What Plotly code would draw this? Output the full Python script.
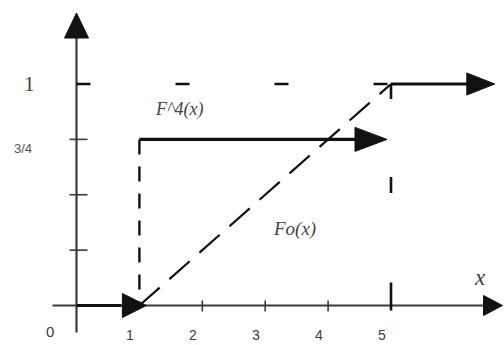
import plotly.graph_objects as go

# Step function F^4(x): levels between breakpoints
f4_breaks = [0, 1, 5, 6.65]
f4_levels = [0, 0.75, 1]

# Limit distribution Fo(x): straight line from (1, 0) to (5, 1)
fo_x = [1, 5]
fo_y = [0, 1]

# Axis ticks and labels
x_ticks = [1, 2, 3, 4, 5]
x_tick_labels = ["1", "2", "3", "4", "5"]
y_ticks = [0.25, 0.5, 0.75, 1]
y_label_vals = [0.75, 1]
y_label_text = ["3/4", "1"]

# Pixel geometry of the plotting area (x: px = 76.5 + 62.9*x ; y: px = 305.5 - 221.5*y)
W, H = 504, 345
x0_px, x_unit = 76.5, 62.9
y0_px, y_unit = 305.5, 221.5
x_range = [-x0_px / x_unit, (W - x0_px) / x_unit]
y_range = [(y0_px - H) / y_unit, y0_px / y_unit]

AX = "#3a3a3a"
INK = "#111111"
TXT = "#3c3c3c"

fig = go.Figure()


def seg(xs, ys, width, color=INK, dash="solid"):
    fig.add_trace(go.Scatter(x=xs, y=ys, mode="lines", hoverinfo="skip",
                             line=dict(color=color, width=width, dash=dash),
                             showlegend=False))


def arrow_right(x, y, length, half, color=INK, shift=0):
    fig.add_shape(type="path", xref="x", yref="y", xsizemode="pixel", ysizemode="pixel",
                  xanchor=x, yanchor=y,
                  path=f"M {shift},0 L {shift - length},{half} L {shift - length},{-half} Z",
                  fillcolor=color, line=dict(color=color, width=1))


def arrow_up(x, y, length, half, color=INK):
    fig.add_shape(type="path", xref="x", yref="y", xsizemode="pixel", ysizemode="pixel",
                  xanchor=x, yanchor=y,
                  path=f"M 0,0 L {-half},{-length} L {half},{-length} Z",
                  fillcolor=color, line=dict(color=color, width=1))


# Coordinate axes
x_axis_end = x_range[1] - 1.5 / x_unit
y_axis_top = (y0_px - 13) / y_unit
seg([-24 / x_unit, x_axis_end - 18 / x_unit], [0, 0], 2.2, AX)
arrow_right(x_axis_end, 0, 19, 10, INK)
seg([0, 0], [-27 / y_unit, y_axis_top - 22 / y_unit], 2.2, AX)
arrow_up(0, y_axis_top, 25, 12, INK)

# Ticks on the x axis
for xv in x_ticks[1:4]:
    fig.add_shape(type="line", xref="x", yref="y", ysizemode="pixel", yanchor=0,
                  x0=xv, x1=xv, y0=-6, y1=5, line=dict(color=AX, width=1.6))
fig.add_shape(type="line", xref="x", yref="y", ysizemode="pixel", yanchor=0,
              x0=x_ticks[-1], x1=x_ticks[-1], y0=-5, y1=23, line=dict(color=INK, width=2.6))

# Ticks on the y axis
for yv in y_ticks[:-1]:
    fig.add_shape(type="line", xref="x", yref="y", xsizemode="pixel", xanchor=0,
                  x0=-7, x1=11, y0=yv, y1=yv, line=dict(color=AX, width=1.6))

# Guide lines: dashed level 1, dashed verticals at x = 1 and x = 5
seg([0, f4_breaks[2]], [1, 1], 2.4, INK, "14px,85px")
seg([f4_breaks[1], f4_breaks[1]], [f4_levels[1], 0], 2.4, INK, "15px,12px")
seg([f4_breaks[2], f4_breaks[2]], [1, 0.45], 2.6, INK, "15px,78px,16px,300px")

# Fo(x)
seg(fo_x, fo_y, 2.2, INK, "27px,13px")

# F^4(x) steps with arrow heads
seg([f4_breaks[0], f4_breaks[1] - 18 / x_unit], [f4_levels[0]] * 2, 3.2)
arrow_right(f4_breaks[1], f4_levels[0], 24, 12, INK, shift=7)
seg([f4_breaks[1], f4_breaks[2] - 30 / x_unit], [f4_levels[1]] * 2, 3.2)
arrow_right(f4_breaks[2], f4_levels[1], 32, 12, INK, shift=-4)
seg([f4_breaks[2], f4_breaks[3] - 26 / x_unit], [f4_levels[2]] * 2, 3.2)
arrow_right(f4_breaks[3], f4_levels[2], 28, 11, INK)

# Text
serif = "Liberation Serif, DejaVu Serif, serif"
sans = "Liberation Sans, Arial, sans-serif"
for xv, lab in zip(x_ticks, x_tick_labels):
    fig.add_annotation(x=xv, y=0, text=lab, showarrow=False, xshift=-9, yshift=-29,
                       font=dict(family=sans, size=14, color=TXT))
fig.add_annotation(x=0, y=0, text="0", showarrow=False, xshift=-27, yshift=-26,
                   font=dict(family=sans, size=15, color=TXT))
fig.add_annotation(x=0, y=y_label_vals[0], text=y_label_text[0], showarrow=False,
                   xshift=-54, yshift=-9, font=dict(family=sans, size=13, color="#555555"))
fig.add_annotation(x=0, y=y_label_vals[1], text=y_label_text[1], showarrow=False,
                   xshift=-47, yshift=0, font=dict(family=serif, size=21, color=TXT))
fig.add_annotation(x=x_range[1], y=0, text="<i>x</i>", showarrow=False, xshift=-24, yshift=28,
                   font=dict(family=serif, size=23, color=TXT))
fig.add_annotation(x=1.63, y=0.885, text="<i>F^4(x)</i>", showarrow=False,
                   font=dict(family=serif, size=18, color="#444444"))
fig.add_annotation(x=3.46, y=0.345, text="<i>Fo(x)</i>", showarrow=False,
                   font=dict(family=serif, size=19, color="#444444"))

fig.update_layout(
    width=W, height=H,
    margin=dict(l=0, r=0, t=0, b=0),
    paper_bgcolor="white", plot_bgcolor="white",
    xaxis=dict(range=x_range, visible=False, fixedrange=True),
    yaxis=dict(range=y_range, visible=False, fixedrange=True),
    showlegend=False,
)

fig.write_html("out.html")
